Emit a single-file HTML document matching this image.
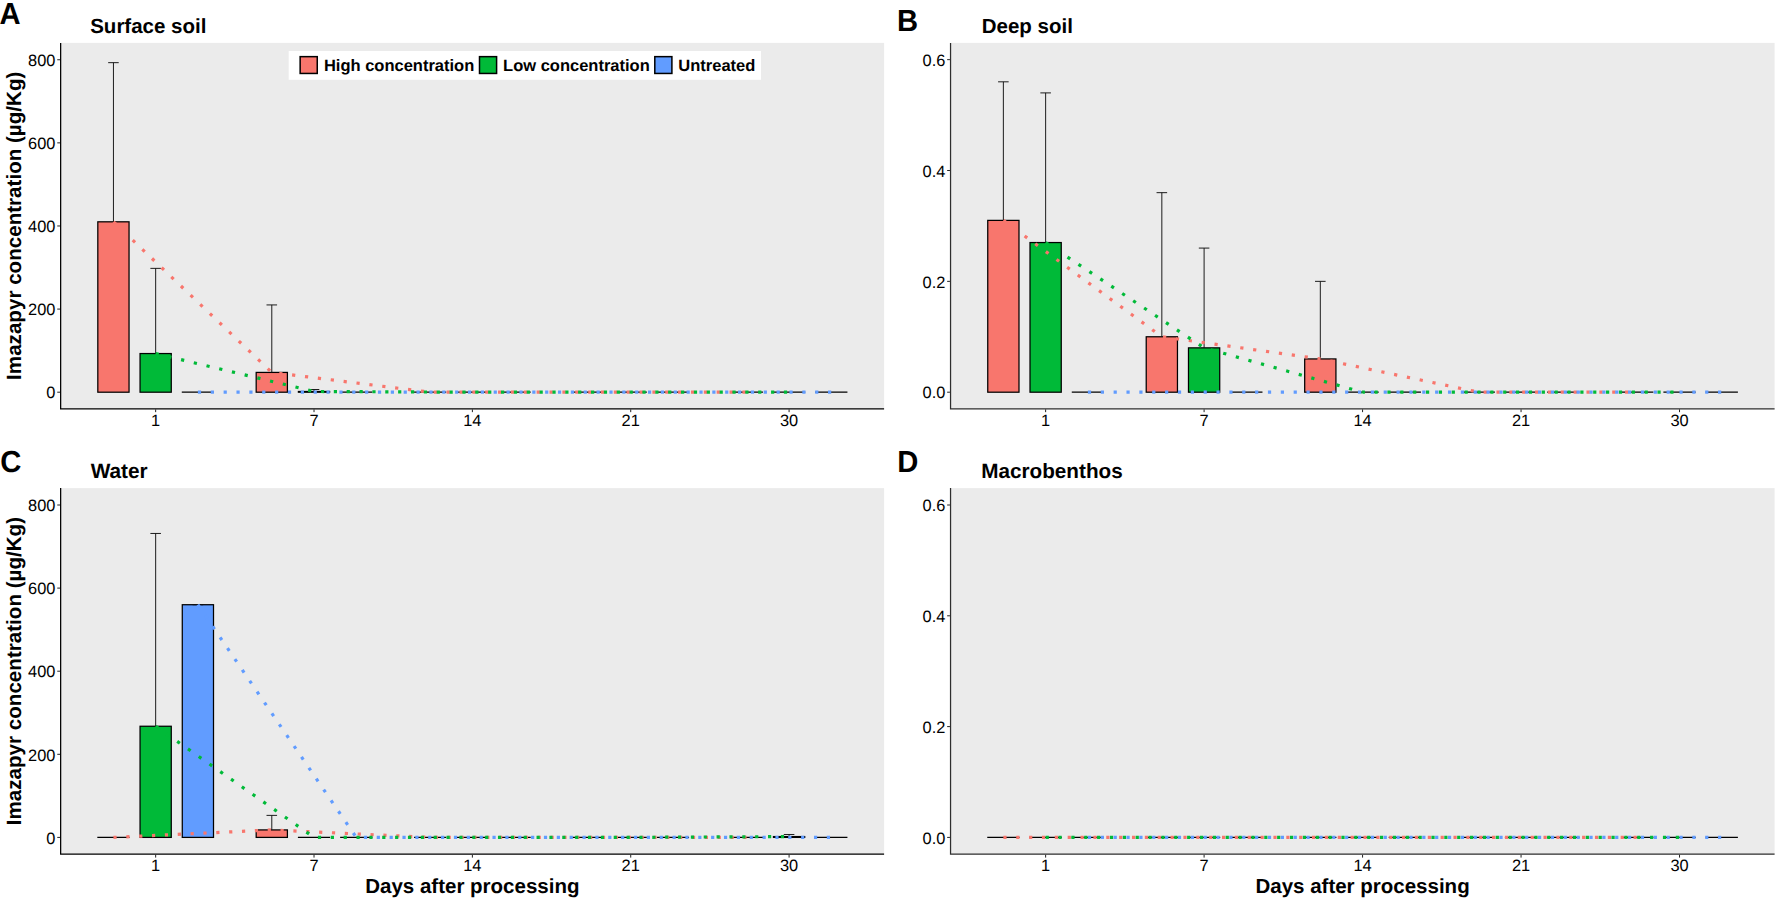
<!DOCTYPE html>
<html lang="en">
<head>
<meta charset="utf-8">
<title>Imazapyr concentration by days after processing</title>
<style>
html,body{margin:0;padding:0;background:#fff;}
body{width:1776px;height:899px;overflow:hidden;}
svg{display:block;}
svg text{font-family:"Liberation Sans",sans-serif;fill:#000;text-rendering:geometricPrecision;}
</style>
</head>
<body>
<svg width="1776" height="899" viewBox="0 0 1776 899">
<rect width="1776" height="899" fill="#fff"/>
<g id="panelA">
<rect x="60.65" y="42.9" width="823.45" height="365.85" fill="#EBEBEB"/>
<g stroke="#000" stroke-width="1.25" fill="none"><rect x="97.82" y="221.82" width="31.22" height="170.38" fill="#F8766D"/><rect x="140.05" y="353.55" width="31.22" height="38.65" fill="#00BA38"/><path d="M181.78 392.2H214"/><rect x="256.18" y="372.42" width="31.22" height="19.78" fill="#F8766D"/><rect x="298.41" y="391.49" width="31.22" height="0.71" fill="#00BA38"/><path d="M340.14 392.2H372.36"/><path d="M414.04 392.2H446.26"/><path d="M456.26 392.2H488.49"/><path d="M498.49 392.2H530.71"/><path d="M572.39 392.2H604.61"/><path d="M614.62 392.2H646.84"/><path d="M656.85 392.2H689.07"/><path d="M730.75 392.2H762.97"/><path d="M772.98 392.2H805.2"/><path d="M815.2 392.2H847.43"/></g>
<g stroke="#111" stroke-width="0.95" fill="none"><path d="M108.16 62.66H118.71M113.44 62.66V221.82"/><path d="M150.38 268.36H160.94M155.66 268.36V353.55"/><path d="M266.51 304.93H277.07M271.79 304.93V372.42"/><path d="M308.74 389.5H319.3M314.02 389.5V391.49"/></g>
<g stroke="#F8766D" stroke-width="3.2" fill="none"><line x1="113.44" y1="221.82" x2="271.79" y2="372.42" stroke-dasharray="3.2 10.11" stroke-dashoffset="0"/><line x1="271.79" y1="372.42" x2="430.15" y2="392.2" stroke-dasharray="3.2 9.78" stroke-dashoffset="5.5"/><line x1="430.15" y1="392.2" x2="588.5" y2="392.2" stroke-dasharray="3.2 9.66" stroke-dashoffset="9.25"/><line x1="588.5" y1="392.2" x2="746.86" y2="392.2" stroke-dasharray="3.2 9.66" stroke-dashoffset="0.43"/></g>
<g stroke="#00BA38" stroke-width="3.2" fill="none"><line x1="155.66" y1="353.55" x2="314.02" y2="391.49" stroke-dasharray="3.2 9.87" stroke-dashoffset="0"/><line x1="314.02" y1="391.49" x2="472.38" y2="392.2" stroke-dasharray="3.2 9.66" stroke-dashoffset="5.93"/><line x1="472.38" y1="392.2" x2="630.73" y2="392.2" stroke-dasharray="3.2 9.66" stroke-dashoffset="9.96"/><line x1="630.73" y1="392.2" x2="789.09" y2="392.2" stroke-dasharray="3.2 9.66" stroke-dashoffset="1.14"/></g>
<g stroke="#619CFF" stroke-width="3.2" fill="none"><line x1="197.89" y1="392.2" x2="356.25" y2="392.2" stroke-dasharray="3.2 9.66" stroke-dashoffset="0"/><line x1="356.25" y1="392.2" x2="514.6" y2="392.2" stroke-dasharray="3.2 9.66" stroke-dashoffset="4.04"/><line x1="514.6" y1="392.2" x2="672.96" y2="392.2" stroke-dasharray="3.2 9.66" stroke-dashoffset="8.07"/><line x1="672.96" y1="392.2" x2="831.31" y2="392.2" stroke-dasharray="3.2 9.66" stroke-dashoffset="12.11"/></g>
<path d="M60.65 42.9V408.75H884.1" stroke="#000" stroke-width="1.25" fill="none" stroke-linejoin="miter"/>
<path d="M57.25 392.2H60.05M57.25 309.09H60.05M57.25 225.97H60.05M57.25 142.86H60.05M57.25 59.75H60.05M155.66 409.35V412.15M314.02 409.35V412.15M472.38 409.35V412.15M630.73 409.35V412.15M789.09 409.35V412.15" stroke="#222" stroke-width="1" fill="none"/>
<g font-size="16.4" fill="#000">
<text x="55.45" y="398.4" text-anchor="end">0</text>
<text x="55.45" y="315.29" text-anchor="end">200</text>
<text x="55.45" y="232.17" text-anchor="end">400</text>
<text x="55.45" y="149.06" text-anchor="end">600</text>
<text x="55.45" y="65.95" text-anchor="end">800</text>
<text x="155.66" y="426.2" text-anchor="middle">1</text>
<text x="314.02" y="426.2" text-anchor="middle">7</text>
<text x="472.38" y="426.2" text-anchor="middle">14</text>
<text x="630.73" y="426.2" text-anchor="middle">21</text>
<text x="789.09" y="426.2" text-anchor="middle">30</text>
</g>
<text x="90.2" y="33.2" font-size="20.5" font-weight="bold">Surface soil</text>
<text transform="translate(-0.5 24) scale(1 1.04)" font-size="29.2" font-weight="bold">A</text>
<text transform="translate(20.6 225.77) rotate(-90)" font-size="20.6" font-weight="bold" text-anchor="middle">Imazapyr concentration (µg/Kg)</text>
</g>
<g id="panelB">
<rect x="950.55" y="42.9" width="824.05" height="365.85" fill="#EBEBEB"/>
<g stroke="#000" stroke-width="1.25" fill="none"><rect x="987.75" y="220.38" width="31.24" height="171.82" fill="#F8766D"/><rect x="1030.01" y="242.55" width="31.24" height="149.65" fill="#00BA38"/><path d="M1071.77 392.2H1104.01"/><rect x="1146.22" y="336.77" width="31.24" height="55.43" fill="#F8766D"/><rect x="1188.48" y="347.86" width="31.24" height="44.34" fill="#00BA38"/><path d="M1230.24 392.2H1262.48"/><rect x="1304.69" y="358.94" width="31.24" height="33.25" fill="#F8766D"/><path d="M1346.45 392.2H1378.7"/><path d="M1388.71 392.2H1420.96"/><path d="M1462.67 392.2H1494.91"/><path d="M1504.92 392.2H1537.17"/><path d="M1547.18 392.2H1579.43"/><path d="M1621.14 392.2H1653.38"/><path d="M1663.4 392.2H1695.64"/><path d="M1705.65 392.2H1737.9"/></g>
<g stroke="#111" stroke-width="0.95" fill="none"><path d="M998.09 81.82H1008.66M1003.37 81.82V220.38"/><path d="M1040.35 92.9H1050.92M1045.63 92.9V242.55"/><path d="M1156.56 192.67H1167.13M1161.84 192.67V336.77"/><path d="M1198.82 248.09H1209.39M1204.1 248.09V347.86"/><path d="M1315.03 281.35H1325.6M1320.32 281.35V358.94"/></g>
<g stroke="#F8766D" stroke-width="3.2" fill="none"><line x1="1003.37" y1="220.38" x2="1161.84" y2="336.77" stroke-dasharray="3.2 9.99" stroke-dashoffset="0"/><line x1="1161.84" y1="336.77" x2="1320.32" y2="358.94" stroke-dasharray="3.2 9.8" stroke-dashoffset="11.82"/><line x1="1320.32" y1="358.94" x2="1478.79" y2="392.2" stroke-dasharray="3.2 9.85" stroke-dashoffset="2.9"/><line x1="1478.79" y1="392.2" x2="1637.26" y2="392.2" stroke-dasharray="3.2 9.66" stroke-dashoffset="8.05"/></g>
<g stroke="#00BA38" stroke-width="3.2" fill="none"><line x1="1045.63" y1="242.55" x2="1204.1" y2="347.86" stroke-dasharray="3.2 9.94" stroke-dashoffset="0"/><line x1="1204.1" y1="347.86" x2="1362.57" y2="392.2" stroke-dasharray="3.2 9.87" stroke-dashoffset="6.29"/><line x1="1362.57" y1="392.2" x2="1521.05" y2="392.2" stroke-dasharray="3.2 9.66" stroke-dashoffset="0.89"/><line x1="1521.05" y1="392.2" x2="1679.52" y2="392.2" stroke-dasharray="3.2 9.66" stroke-dashoffset="5.04"/></g>
<g stroke="#619CFF" stroke-width="3.2" fill="none"><line x1="1087.89" y1="392.2" x2="1246.36" y2="392.2" stroke-dasharray="3.2 9.66" stroke-dashoffset="0"/><line x1="1246.36" y1="392.2" x2="1404.83" y2="392.2" stroke-dasharray="3.2 9.66" stroke-dashoffset="4.15"/><line x1="1404.83" y1="392.2" x2="1563.31" y2="392.2" stroke-dasharray="3.2 9.66" stroke-dashoffset="8.3"/><line x1="1563.31" y1="392.2" x2="1721.78" y2="392.2" stroke-dasharray="3.2 9.66" stroke-dashoffset="12.45"/></g>
<path d="M950.55 42.9V408.75H1774.6" stroke="#2e2e2e" stroke-width="1.25" fill="none" stroke-linejoin="miter"/>
<path d="M947.15 392.2H949.95M947.15 281.35H949.95M947.15 170.5H949.95M947.15 59.65H949.95M1045.63 409.35V412.15M1204.1 409.35V412.15M1362.57 409.35V412.15M1521.05 409.35V412.15M1679.52 409.35V412.15" stroke="#222" stroke-width="1" fill="none"/>
<g font-size="16.4" fill="#000">
<text x="945.35" y="398.4" text-anchor="end">0.0</text>
<text x="945.35" y="287.55" text-anchor="end">0.2</text>
<text x="945.35" y="176.7" text-anchor="end">0.4</text>
<text x="945.35" y="65.85" text-anchor="end">0.6</text>
<text x="1045.63" y="426.2" text-anchor="middle">1</text>
<text x="1204.1" y="426.2" text-anchor="middle">7</text>
<text x="1362.57" y="426.2" text-anchor="middle">14</text>
<text x="1521.05" y="426.2" text-anchor="middle">21</text>
<text x="1679.52" y="426.2" text-anchor="middle">30</text>
</g>
<text x="981.75" y="33" font-size="20.5" font-weight="bold">Deep soil</text>
<text transform="translate(897 30.6) scale(1 1.04)" font-size="29.2" font-weight="bold">B</text>
</g>
<g id="panelC">
<rect x="60.65" y="488.1" width="823.45" height="366.1" fill="#EBEBEB"/>
<g stroke="#000" stroke-width="1.25" fill="none"><path d="M97.32 837.4H129.55"/><rect x="140.05" y="726.25" width="31.22" height="111.15" fill="#00BA38"/><rect x="182.28" y="604.72" width="31.22" height="232.68" fill="#619CFF"/><rect x="256.18" y="829.92" width="31.22" height="7.48" fill="#F8766D"/><path d="M297.91 837.4H330.13"/><path d="M340.14 837.4H372.36"/><path d="M414.04 837.4H446.26"/><path d="M456.26 837.4H488.49"/><path d="M498.49 837.4H530.71"/><path d="M572.39 837.4H604.61"/><path d="M614.62 837.4H646.84"/><path d="M656.85 837.4H689.07"/><path d="M730.75 837.4H762.97"/><rect x="773.48" y="836.57" width="31.22" height="0.83" fill="#00BA38"/><path d="M815.2 837.4H847.43"/></g>
<g stroke="#111" stroke-width="0.95" fill="none"><path d="M150.38 533.46H160.94M155.66 533.46V726.25"/><path d="M192.61 604.72H203.17"/><path d="M266.51 815.38H277.07M271.79 815.38V829.92"/><path d="M783.81 834.49H794.37M789.09 834.49V836.57"/></g>
<g stroke="#F8766D" stroke-width="3.2" fill="none"><line x1="113.44" y1="837.4" x2="271.79" y2="829.92" stroke-dasharray="3.2 9.67" stroke-dashoffset="0"/><line x1="271.79" y1="829.92" x2="430.15" y2="837.4" stroke-dasharray="3.2 9.67" stroke-dashoffset="4.13"/><line x1="430.15" y1="837.4" x2="588.5" y2="837.4" stroke-dasharray="3.2 9.66" stroke-dashoffset="8.26"/><line x1="588.5" y1="837.4" x2="746.86" y2="837.4" stroke-dasharray="3.2 9.66" stroke-dashoffset="12.3"/></g>
<g stroke="#00BA38" stroke-width="3.2" fill="none"><line x1="155.66" y1="726.25" x2="314.02" y2="837.4" stroke-dasharray="3.2 9.96" stroke-dashoffset="0"/><line x1="314.02" y1="837.4" x2="472.38" y2="837.4" stroke-dasharray="3.2 9.66" stroke-dashoffset="8.96"/><line x1="472.38" y1="837.4" x2="630.73" y2="837.4" stroke-dasharray="3.2 9.66" stroke-dashoffset="0.14"/><line x1="630.73" y1="837.4" x2="789.09" y2="836.57" stroke-dasharray="3.2 9.66" stroke-dashoffset="4.18"/></g>
<g stroke="#619CFF" stroke-width="3.2" fill="none"><line x1="197.89" y1="604.72" x2="356.25" y2="837.4" stroke-dasharray="3.2 9.95" stroke-dashoffset="0"/><line x1="356.25" y1="837.4" x2="514.6" y2="837.4" stroke-dasharray="3.2 9.66" stroke-dashoffset="5.24"/><line x1="514.6" y1="837.4" x2="672.96" y2="837.4" stroke-dasharray="3.2 9.66" stroke-dashoffset="9.27"/><line x1="672.96" y1="837.4" x2="831.31" y2="837.4" stroke-dasharray="3.2 9.66" stroke-dashoffset="0.45"/></g>
<path d="M60.65 488.1V854.2H884.1" stroke="#000" stroke-width="1.25" fill="none" stroke-linejoin="miter"/>
<path d="M57.25 837.4H60.05M57.25 754.3H60.05M57.25 671.2H60.05M57.25 588.1H60.05M57.25 505H60.05M155.66 854.8V857.6M314.02 854.8V857.6M472.38 854.8V857.6M630.73 854.8V857.6M789.09 854.8V857.6" stroke="#222" stroke-width="1" fill="none"/>
<g font-size="16.4" fill="#000">
<text x="55.45" y="843.6" text-anchor="end">0</text>
<text x="55.45" y="760.5" text-anchor="end">200</text>
<text x="55.45" y="677.4" text-anchor="end">400</text>
<text x="55.45" y="594.3" text-anchor="end">600</text>
<text x="55.45" y="511.2" text-anchor="end">800</text>
<text x="155.66" y="871.3" text-anchor="middle">1</text>
<text x="314.02" y="871.3" text-anchor="middle">7</text>
<text x="472.38" y="871.3" text-anchor="middle">14</text>
<text x="630.73" y="871.3" text-anchor="middle">21</text>
<text x="789.09" y="871.3" text-anchor="middle">30</text>
</g>
<text x="90.7" y="477.95" font-size="20.8" font-weight="bold">Water</text>
<text transform="translate(0.2 472.2) scale(1 1.04)" font-size="29.2" font-weight="bold">C</text>
<text x="472.38" y="892.8" font-size="20.5" font-weight="bold" text-anchor="middle">Days after processing</text>
<text transform="translate(20.6 671.1) rotate(-90)" font-size="20.6" font-weight="bold" text-anchor="middle">Imazapyr concentration (µg/Kg)</text>
</g>
<g id="panelD">
<rect x="950.55" y="488.1" width="824.05" height="366.1" fill="#EBEBEB"/>
<g stroke="#000" stroke-width="1.25" fill="none"><path d="M987.25 837.4H1019.5"/><path d="M1029.51 837.4H1061.75"/><path d="M1071.77 837.4H1104.01"/><path d="M1145.72 837.4H1177.97"/><path d="M1187.98 837.4H1220.23"/><path d="M1230.24 837.4H1262.48"/><path d="M1304.19 837.4H1336.44"/><path d="M1346.45 837.4H1378.7"/><path d="M1388.71 837.4H1420.96"/><path d="M1462.67 837.4H1494.91"/><path d="M1504.92 837.4H1537.17"/><path d="M1547.18 837.4H1579.43"/><path d="M1621.14 837.4H1653.38"/><path d="M1663.4 837.4H1695.64"/><path d="M1705.65 837.4H1737.9"/></g>
<g stroke="#111" stroke-width="0.95" fill="none"></g>
<g stroke="#F8766D" stroke-width="3.2" fill="none"><line x1="1003.37" y1="837.4" x2="1161.84" y2="837.4" stroke-dasharray="3.2 9.66" stroke-dashoffset="0"/><line x1="1161.84" y1="837.4" x2="1320.32" y2="837.4" stroke-dasharray="3.2 9.66" stroke-dashoffset="4.15"/><line x1="1320.32" y1="837.4" x2="1478.79" y2="837.4" stroke-dasharray="3.2 9.66" stroke-dashoffset="8.3"/><line x1="1478.79" y1="837.4" x2="1637.26" y2="837.4" stroke-dasharray="3.2 9.66" stroke-dashoffset="12.45"/></g>
<g stroke="#00BA38" stroke-width="3.2" fill="none"><line x1="1045.63" y1="837.4" x2="1204.1" y2="837.4" stroke-dasharray="3.2 9.66" stroke-dashoffset="0"/><line x1="1204.1" y1="837.4" x2="1362.57" y2="837.4" stroke-dasharray="3.2 9.66" stroke-dashoffset="4.15"/><line x1="1362.57" y1="837.4" x2="1521.05" y2="837.4" stroke-dasharray="3.2 9.66" stroke-dashoffset="8.3"/><line x1="1521.05" y1="837.4" x2="1679.52" y2="837.4" stroke-dasharray="3.2 9.66" stroke-dashoffset="12.45"/></g>
<g stroke="#619CFF" stroke-width="3.2" fill="none"><line x1="1087.89" y1="837.4" x2="1246.36" y2="837.4" stroke-dasharray="3.2 9.66" stroke-dashoffset="0"/><line x1="1246.36" y1="837.4" x2="1404.83" y2="837.4" stroke-dasharray="3.2 9.66" stroke-dashoffset="4.15"/><line x1="1404.83" y1="837.4" x2="1563.31" y2="837.4" stroke-dasharray="3.2 9.66" stroke-dashoffset="8.3"/><line x1="1563.31" y1="837.4" x2="1721.78" y2="837.4" stroke-dasharray="3.2 9.66" stroke-dashoffset="12.45"/></g>
<path d="M950.55 488.1V854.2H1774.6" stroke="#2e2e2e" stroke-width="1.25" fill="none" stroke-linejoin="miter"/>
<path d="M947.15 837.4H949.95M947.15 726.6H949.95M947.15 615.8H949.95M947.15 505H949.95M1045.63 854.8V857.6M1204.1 854.8V857.6M1362.57 854.8V857.6M1521.05 854.8V857.6M1679.52 854.8V857.6" stroke="#222" stroke-width="1" fill="none"/>
<g font-size="16.4" fill="#000">
<text x="945.35" y="843.6" text-anchor="end">0.0</text>
<text x="945.35" y="732.8" text-anchor="end">0.2</text>
<text x="945.35" y="622" text-anchor="end">0.4</text>
<text x="945.35" y="511.2" text-anchor="end">0.6</text>
<text x="1045.63" y="871.3" text-anchor="middle">1</text>
<text x="1204.1" y="871.3" text-anchor="middle">7</text>
<text x="1362.57" y="871.3" text-anchor="middle">14</text>
<text x="1521.05" y="871.3" text-anchor="middle">21</text>
<text x="1679.52" y="871.3" text-anchor="middle">30</text>
</g>
<text x="981.3" y="477.85" font-size="20.7" font-weight="bold">Macrobenthos</text>
<text transform="translate(897.2 472) scale(1 1.04)" font-size="29.2" font-weight="bold">D</text>
<text x="1362.57" y="892.8" font-size="20.5" font-weight="bold" text-anchor="middle">Days after processing</text>
</g>
<g id="legend">
<rect x="288.7" y="51" width="472.3" height="28.8" fill="#fff"/>
<rect x="300.15" y="56.65" width="17.1" height="16.8" fill="#F8766D" stroke="#000" stroke-width="1.5"/>
<text x="323.95" y="71.4" font-size="16.5" font-weight="bold">High concentration</text>
<rect x="479.5" y="56.65" width="17.1" height="16.8" fill="#00BA38" stroke="#000" stroke-width="1.5"/>
<text x="503.1" y="71.4" font-size="16.5" font-weight="bold">Low concentration</text>
<rect x="654.8" y="56.65" width="17.1" height="16.8" fill="#619CFF" stroke="#000" stroke-width="1.5"/>
<text x="678.3" y="71.4" font-size="16.5" font-weight="bold">Untreated</text>
</g>
</svg>
</body>
</html>
